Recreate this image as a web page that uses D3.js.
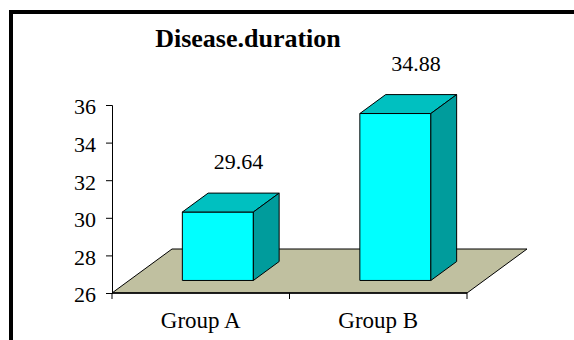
<!DOCTYPE html>
<html>
<head>
<meta charset="utf-8">
<script src="https://cdn.jsdelivr.net/npm/d3@7"></script>
</head>
<body style="margin:0">
<script>
var w = 574;
var h = 340;
var font = "'Liberation Serif'";

// chart data
var groups = ["Group A", "Group B"];
var values = [29.64, 34.88];
var yTicks = [26, 28, 30, 32, 34, 36];
var title = "Disease.duration";

var svg = d3.select("body")
            .append("svg")
              .attr("width", w)
              .attr("height", h);

// outer frame (runs off the right/bottom edges)
svg.append("rect")
  .attr("x", 11).attr("y", 12)
  .attr("width", 640).attr("height", 400)
  .attr("fill", "none")
  .attr("stroke", "#000")
  .attr("stroke-width", 4);

//Scales
var x = d3.scaleBand()
  .domain(groups)
  .range([112, 467])
  .padding(0);

var y = d3.scaleLinear()
  .domain([26, 36])
  .range([293, 105]);

// 3d depth of the floor, bars sit in the middle of it
var depthX = 60, depthY = 44;
var barFrac = 0.43;
var offX = depthX * (1 - barFrac) / 2;
var offY = depthY * (1 - barFrac) / 2;
var bdx = depthX * barFrac, bdy = depthY * barFrac;
var barW = x.bandwidth() * 0.4;

//Floor
var x0 = x.range()[0], x1 = x.range()[1], yb = y(26);
svg.append("path")
  .attr("d", "M" + x0 + "," + yb + "L" + x1 + "," + yb +
             "L" + (x1 + depthX) + "," + (yb - depthY) +
             "L" + (x0 + depthX) + "," + (yb - depthY) + "Z")
  .attr("fill", "#c0c0a0")
  .attr("stroke", "#000")
  .attr("stroke-width", 1);

//Bars
var bars = svg.selectAll("g.bar")
  .data(values)
  .enter()
  .append("g")
  .attr("class", "bar");

function bx(d, i) { return x(groups[i]) + (x.bandwidth() - barW) / 2 + offX; }

// front
bars.append("path")
  .attr("d", function(d, i) {
    var l = bx(d, i), r = l + barW, t = y(d) - offY, b = yb - offY;
    return "M" + l + "," + b + "L" + l + "," + t + "L" + r + "," + t + "L" + r + "," + b + "Z";
  })
  .attr("fill", "#00ffff")
  .attr("stroke", "#000")
  .attr("stroke-width", 1);

// top
bars.append("path")
  .attr("d", function(d, i) {
    var l = bx(d, i), r = l + barW, t = y(d) - offY;
    return "M" + l + "," + t + "L" + (l + bdx) + "," + (t - bdy) +
           "L" + (r + bdx) + "," + (t - bdy) + "L" + r + "," + t + "Z";
  })
  .attr("fill", "#00c0c0")
  .attr("stroke", "#000")
  .attr("stroke-width", 1);

// side
bars.append("path")
  .attr("d", function(d, i) {
    var r = bx(d, i) + barW, t = y(d) - offY, b = yb - offY;
    return "M" + r + "," + b + "L" + r + "," + t + "L" + (r + bdx) + "," + (t - bdy) +
           "L" + (r + bdx) + "," + (b - bdy) + "Z";
  })
  .attr("fill", "#009c9c")
  .attr("stroke", "#000")
  .attr("stroke-width", 1);

// value labels
bars.append("text")
  .attr("x", function(d, i) { return bx(d, i) + barW / 2 + bdx * 0.8; })
  .attr("y", function(d) { return y(d) - offY - bdy - 24; })
  .attr("text-anchor", "middle")
  .style("font-family", font)
  .style("font-size", "22px")
  .text(function(d) { return d.toFixed(2); });

//Axes
var yAxis = d3.axisLeft(y)
  .tickValues(yTicks)
  .tickSize(6)
  .tickPadding(10);

var gy = svg.append("g")
  .attr("class", "yaxis")
  .attr("transform", "translate(" + x0 + ",0)")
  .call(yAxis);
gy.attr("font-family", "Liberation Serif");
gy.select(".domain").attr("stroke", "#000");
gy.selectAll("text")
  .style("font-family", font)
  .style("font-size", "22px")
  .attr("dy", "0.4em");

var xAxis = d3.axisBottom(x)
  .tickSize(6)
  .tickPadding(13);

var gx = svg.append("g")
  .attr("class", "xaxis")
  .attr("transform", "translate(0," + yb + ")")
  .call(xAxis);
gx.attr("font-family", "Liberation Serif");
gx.select(".domain").attr("d", "M" + x0 + ",0H" + x1).attr("stroke", "#000").attr("stroke-width", 1.5);
// ticks sit between categories, not at their centres
gx.selectAll(".tick line").remove();
gx.selectAll(".edge")
  .data([x0, x0 + x.step(), x1])
  .enter()
  .append("line")
  .attr("x1", function(d) { return d; })
  .attr("x2", function(d) { return d; })
  .attr("y1", 0).attr("y2", 6)
  .attr("stroke", "#000");
gx.selectAll(".tick text")
  .style("font-family", font)
  .style("font-size", "23px");

//Title
svg.append("text")
  .attr("x", 248)
  .attr("y", 47)
  .attr("text-anchor", "middle")
  .style("font-family", font)
  .style("font-size", "26px")
  .style("font-weight", "bold")
  .text(title);
</script>
</body>
</html>
